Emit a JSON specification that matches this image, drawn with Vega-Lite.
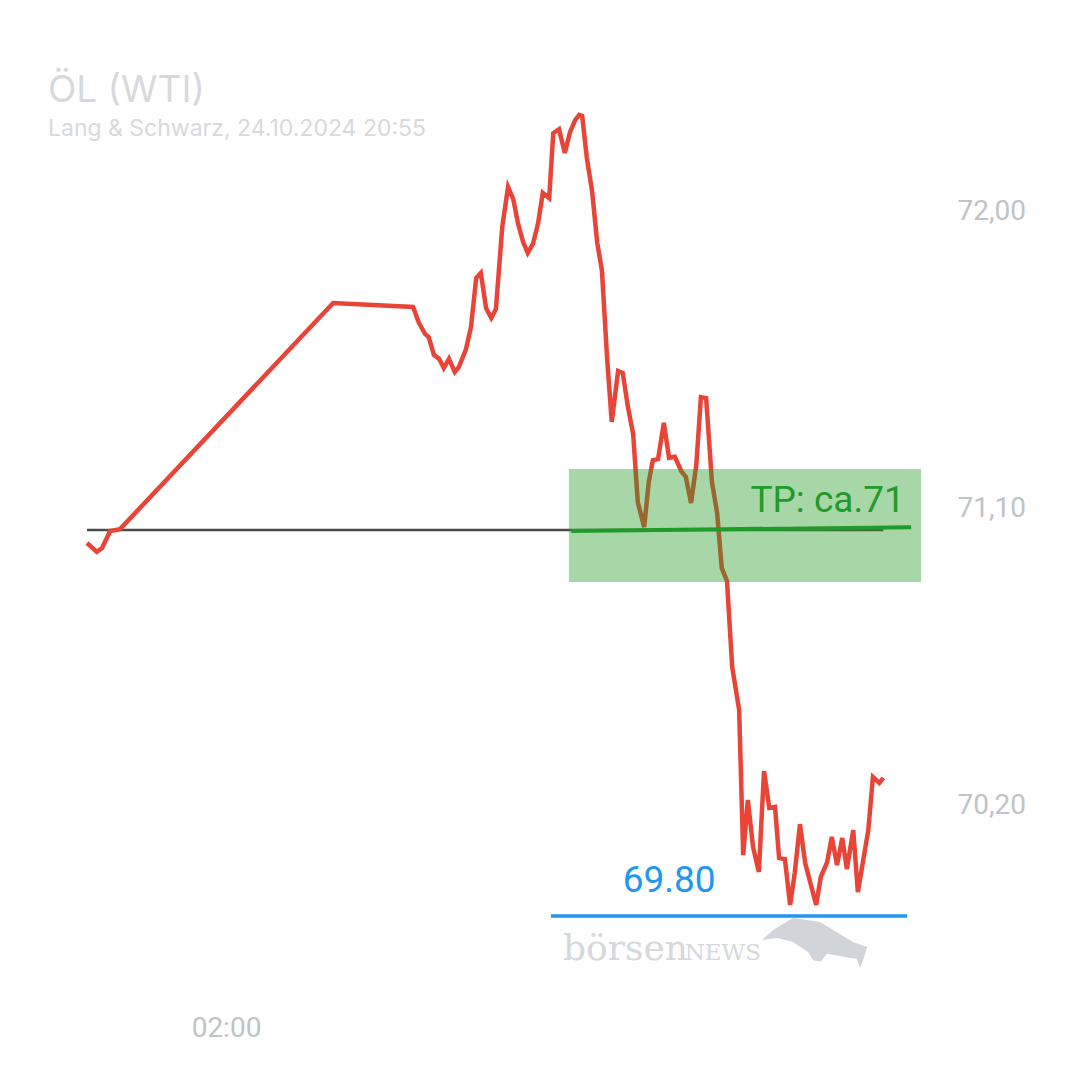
{
  "$schema": "https://vega.github.io/schema/vega-lite/v6.json",
  "width": 834,
  "height": 858,
  "autosize": {"type": "none"},
  "padding": {"left": 87, "top": 112, "right": 159, "bottom": 110},
  "background": "white",
  "config": {"view": {"stroke": null}, "font": "Roboto"},
  "title": {
    "text": "ÖL (WTI)",
    "subtitle": "Lang & Schwarz, 24.10.2024 20:55",
    "anchor": "start",
    "frame": "group",
    "dx": -39,
    "offset": -36,
    "font": "Inter",
    "fontSize": 37,
    "fontWeight": "normal",
    "color": "#d8d9dc",
    "subtitleFont": "Inter",
    "subtitleFontSize": 23,
    "subtitleColor": "#d8d9dc",
    "subtitlePadding": 8
  },
  "datasets": {
    "price": [
      {"t": "2024-10-23T22:00", "v": 70.994},
      {"t": "2024-10-23T22:17", "v": 70.967},
      {"t": "2024-10-23T22:26", "v": 70.979},
      {"t": "2024-10-23T22:40", "v": 71.030},
      {"t": "2024-10-23T22:57", "v": 71.036},
      {"t": "2024-10-24T05:05", "v": 71.721},
      {"t": "2024-10-24T07:23", "v": 71.709},
      {"t": "2024-10-24T07:33", "v": 71.661},
      {"t": "2024-10-24T07:44", "v": 71.627},
      {"t": "2024-10-24T07:50", "v": 71.618},
      {"t": "2024-10-24T07:59", "v": 71.564},
      {"t": "2024-10-24T08:08", "v": 71.552},
      {"t": "2024-10-24T08:16", "v": 71.524},
      {"t": "2024-10-24T08:25", "v": 71.552},
      {"t": "2024-10-24T08:35", "v": 71.512},
      {"t": "2024-10-24T08:42", "v": 71.527},
      {"t": "2024-10-24T08:54", "v": 71.579},
      {"t": "2024-10-24T09:03", "v": 71.648},
      {"t": "2024-10-24T09:12", "v": 71.797},
      {"t": "2024-10-24T09:20", "v": 71.812},
      {"t": "2024-10-24T09:29", "v": 71.706},
      {"t": "2024-10-24T09:38", "v": 71.676},
      {"t": "2024-10-24T09:46", "v": 71.703},
      {"t": "2024-10-24T09:57", "v": 71.952},
      {"t": "2024-10-24T10:07", "v": 72.073},
      {"t": "2024-10-24T10:16", "v": 72.036},
      {"t": "2024-10-24T10:24", "v": 71.964},
      {"t": "2024-10-24T10:33", "v": 71.906},
      {"t": "2024-10-24T10:41", "v": 71.873},
      {"t": "2024-10-24T10:50", "v": 71.900},
      {"t": "2024-10-24T10:59", "v": 71.964},
      {"t": "2024-10-24T11:07", "v": 72.055},
      {"t": "2024-10-24T11:18", "v": 72.039},
      {"t": "2024-10-24T11:25", "v": 72.236},
      {"t": "2024-10-24T11:35", "v": 72.248},
      {"t": "2024-10-24T11:45", "v": 72.176},
      {"t": "2024-10-24T11:54", "v": 72.239},
      {"t": "2024-10-24T12:03", "v": 72.276},
      {"t": "2024-10-24T12:10", "v": 72.291},
      {"t": "2024-10-24T12:15", "v": 72.288},
      {"t": "2024-10-24T12:23", "v": 72.161},
      {"t": "2024-10-24T12:32", "v": 72.061},
      {"t": "2024-10-24T12:41", "v": 71.903},
      {"t": "2024-10-24T12:49", "v": 71.821},
      {"t": "2024-10-24T12:58", "v": 71.555},
      {"t": "2024-10-24T13:06", "v": 71.361},
      {"t": "2024-10-24T13:17", "v": 71.515},
      {"t": "2024-10-24T13:25", "v": 71.509},
      {"t": "2024-10-24T13:34", "v": 71.406},
      {"t": "2024-10-24T13:43", "v": 71.324},
      {"t": "2024-10-24T13:51", "v": 71.118},
      {"t": "2024-10-24T14:02", "v": 71.042},
      {"t": "2024-10-24T14:10", "v": 71.179},
      {"t": "2024-10-24T14:17", "v": 71.245},
      {"t": "2024-10-24T14:26", "v": 71.248},
      {"t": "2024-10-24T14:36", "v": 71.358},
      {"t": "2024-10-24T14:45", "v": 71.252},
      {"t": "2024-10-24T14:55", "v": 71.255},
      {"t": "2024-10-24T15:06", "v": 71.212},
      {"t": "2024-10-24T15:14", "v": 71.194},
      {"t": "2024-10-24T15:23", "v": 71.115},
      {"t": "2024-10-24T15:32", "v": 71.230},
      {"t": "2024-10-24T15:40", "v": 71.436},
      {"t": "2024-10-24T15:49", "v": 71.433},
      {"t": "2024-10-24T15:59", "v": 71.179},
      {"t": "2024-10-24T16:08", "v": 71.085},
      {"t": "2024-10-24T16:16", "v": 70.918},
      {"t": "2024-10-24T16:25", "v": 70.879},
      {"t": "2024-10-24T16:34", "v": 70.618},
      {"t": "2024-10-24T16:46", "v": 70.488},
      {"t": "2024-10-24T16:53", "v": 70.048},
      {"t": "2024-10-24T17:01", "v": 70.215},
      {"t": "2024-10-24T17:10", "v": 70.073},
      {"t": "2024-10-24T17:20", "v": 69.997},
      {"t": "2024-10-24T17:29", "v": 70.303},
      {"t": "2024-10-24T17:38", "v": 70.191},
      {"t": "2024-10-24T17:48", "v": 70.194},
      {"t": "2024-10-24T17:55", "v": 70.039},
      {"t": "2024-10-24T18:05", "v": 70.036},
      {"t": "2024-10-24T18:14", "v": 69.897},
      {"t": "2024-10-24T18:22", "v": 69.994},
      {"t": "2024-10-24T18:31", "v": 70.142},
      {"t": "2024-10-24T18:40", "v": 70.024},
      {"t": "2024-10-24T18:59", "v": 69.897},
      {"t": "2024-10-24T19:07", "v": 69.982},
      {"t": "2024-10-24T19:18", "v": 70.027},
      {"t": "2024-10-24T19:26", "v": 70.103},
      {"t": "2024-10-24T19:35", "v": 70.018},
      {"t": "2024-10-24T19:44", "v": 70.100},
      {"t": "2024-10-24T19:52", "v": 70.006},
      {"t": "2024-10-24T20:03", "v": 70.124},
      {"t": "2024-10-24T20:11", "v": 69.936},
      {"t": "2024-10-24T20:29", "v": 70.124},
      {"t": "2024-10-24T20:37", "v": 70.285},
      {"t": "2024-10-24T20:48", "v": 70.267},
      {"t": "2024-10-24T20:55", "v": 70.282}
    ],
    "prevclose": [{"t1": "2024-10-23T22:00", "t2": "2024-10-24T20:55", "v": 71.033}],
    "zone": [{"t1": "2024-10-24T11:52", "t2": "2024-10-24T22:00", "v1": 70.876, "v2": 71.218}],
    "tp": [{"t1": "2024-10-24T11:56", "t2": "2024-10-24T21:43", "v1": 71.030, "v2": 71.042}],
    "sl": [{"t1": "2024-10-24T11:21", "t2": "2024-10-24T21:36", "v": 69.864}],
    "tplabel": [{"t": "2024-10-24T21:32", "v": 71.088, "label": "TP: ca.71"}],
    "sllabel": [{"t": "2024-10-24T13:25", "v": 69.936, "label": "69.80"}],
    "wm1": [{"t": "2024-10-24T11:42", "v": 69.730, "label": "börsen"}],
    "wm2": [{"t": "2024-10-24T15:12", "v": 69.730, "label": "NEWS"}],
    "bull": [{"t": "2024-10-24T18:57", "v": 69.776}]
  },
  "layer": [
    {
      "data": {"name": "prevclose"},
      "mark": {"type": "rule", "color": "#4a4a4a", "strokeWidth": 2.5},
      "encoding": {
        "x": {"field": "t1", "type": "temporal"},
        "x2": {"field": "t2"},
        "y": {"field": "v", "type": "quantitative"}
      }
    },
    {
      "data": {"name": "price"},
      "mark": {"type": "line", "color": "#e84538", "strokeWidth": 4.5, "clip": false},
      "encoding": {
        "x": {
          "field": "t",
          "type": "temporal",
          "scale": {"domain": [{"year": 2024, "month": 10, "date": 23, "hours": 22}, {"year": 2024, "month": 10, "date": 24, "hours": 22}], "nice": false},
          "axis": {
            "values": [{"year": 2024, "month": 10, "date": 24, "hours": 2}],
            "format": "%H:%M",
            "title": null,
            "domain": false,
            "ticks": false,
            "grid": false,
            "labelFont": "Roboto",
            "labelFontSize": 28,
            "labelColor": "#c0c3c7",
            "labelPadding": 44
          }
        },
        "y": {
          "field": "v",
          "type": "quantitative",
          "scale": {"domain": [69.7, 72.3], "nice": false, "zero": false},
          "axis": {
            "orient": "right",
            "values": [70.2, 71.1, 72.0],
            "labelExpr": "replace(format(datum.value, '.2f'), '.', ',')",
            "title": null,
            "domain": false,
            "ticks": false,
            "grid": false,
            "labelFont": "Roboto",
            "labelFontSize": 28,
            "labelColor": "#c0c3c7",
            "labelPadding": 36,
            "labelBaseline": "middle"
          }
        }
      }
    },
    {
      "data": {"name": "zone"},
      "mark": {"type": "rect", "color": "#229a22", "opacity": 0.4},
      "encoding": {
        "x": {"field": "t1", "type": "temporal"},
        "x2": {"field": "t2"},
        "y": {"field": "v1", "type": "quantitative"},
        "y2": {"field": "v2"}
      }
    },
    {
      "data": {"name": "tp"},
      "mark": {"type": "rule", "color": "#229a2a", "strokeWidth": 4},
      "encoding": {
        "x": {"field": "t1", "type": "temporal"},
        "x2": {"field": "t2"},
        "y": {"field": "v1", "type": "quantitative"},
        "y2": {"field": "v2"}
      }
    },
    {
      "data": {"name": "sl"},
      "mark": {"type": "rule", "color": "#2196f3", "strokeWidth": 3.5},
      "encoding": {
        "x": {"field": "t1", "type": "temporal"},
        "x2": {"field": "t2"},
        "y": {"field": "v", "type": "quantitative"}
      }
    },
    {
      "data": {"name": "tplabel"},
      "mark": {"type": "text", "color": "#229a2a", "font": "Roboto", "fontSize": 37, "align": "right", "baseline": "alphabetic"},
      "encoding": {
        "x": {"field": "t", "type": "temporal"},
        "y": {"field": "v", "type": "quantitative"},
        "text": {"field": "label"}
      }
    },
    {
      "data": {"name": "sllabel"},
      "mark": {"type": "text", "color": "#2196f3", "font": "Roboto", "fontSize": 37, "align": "left", "baseline": "alphabetic"},
      "encoding": {
        "x": {"field": "t", "type": "temporal"},
        "y": {"field": "v", "type": "quantitative"},
        "text": {"field": "label"}
      }
    },
    {
      "data": {"name": "wm1"},
      "mark": {"type": "text", "color": "#d5d8dc", "font": "DejaVu Serif", "fontSize": 36, "align": "left", "baseline": "alphabetic"},
      "encoding": {
        "x": {"field": "t", "type": "temporal"},
        "y": {"field": "v", "type": "quantitative"},
        "text": {"field": "label"}
      }
    },
    {
      "data": {"name": "wm2"},
      "mark": {"type": "text", "color": "#d5d8dc", "font": "DejaVu Serif", "fontSize": 23, "align": "left", "baseline": "alphabetic"},
      "encoding": {
        "x": {"field": "t", "type": "temporal"},
        "y": {"field": "v", "type": "quantitative"},
        "text": {"field": "label"}
      }
    },
    {
      "data": {"name": "bull"},
      "mark": {
        "type": "point",
        "filled": true,
        "color": "#c9cdd2",
        "opacity": 0.85,
        "size": 12100,
        "shape": "M-0.964,-0.091 L-0.764,-0.273 L-0.4,-0.491 L0.091,-0.418 L0.691,-0.055 L0.945,0.036 L0.9,0.2 L0.82,0.42 L0.76,0.25 L0.636,0.236 L0.45,0.2 L0.218,0.16 L0.1,0.3 L-0.036,0.28 L-0.127,0.127 L-0.4,-0.055 L-0.691,-0.127 Z"
      },
      "encoding": {
        "x": {"field": "t", "type": "temporal"},
        "y": {"field": "v", "type": "quantitative"}
      }
    }
  ]
}
